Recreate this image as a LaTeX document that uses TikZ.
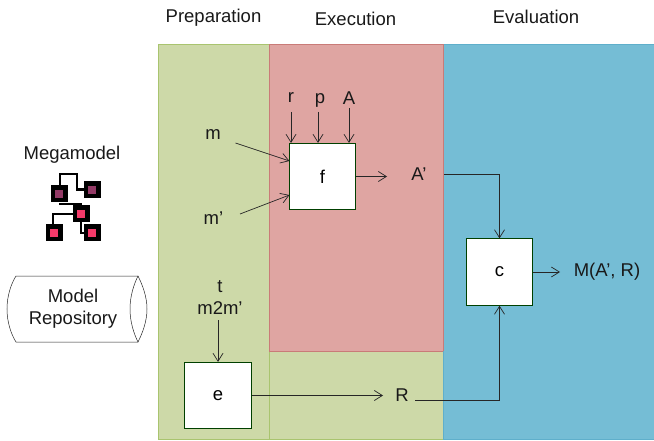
\documentclass[tikz,border=0pt]{standalone}
\usepackage{fontspec}
\setmainfont{Liberation Sans}
\usetikzlibrary{arrows.meta}
\definecolor{pgreen}{HTML}{CDD9A8}
\definecolor{pgreenl}{HTML}{A9C46F}
\definecolor{pred}{HTML}{DFA5A2}
\definecolor{predl}{HTML}{C97B78}
\definecolor{pblue}{HTML}{75BDD5}
\definecolor{pbluel}{HTML}{5FAFCB}
\definecolor{icona}{HTML}{933A66}
\definecolor{iconb}{HTML}{F53A6A}
\tikzset{
  x=1pt,y=-1pt,
  lab/.style={font=\fontsize{18.5}{22}\selectfont,inner sep=0pt,align=center,text=black!90},
  head/.style={font=\fontsize{18.5}{22}\selectfont,inner sep=0pt,text=black!90},
  fnbox/.style={draw=black!75!green,fill=white,line width=0.7pt,minimum width=66.5pt,minimum height=66.5pt,inner sep=0pt,font=\fontsize{18.5}{22}\selectfont},
  conn/.style={draw=black!85,line width=0.7pt,-{Straight Barb[length=8pt,width=10pt,line width=0.7pt]}},
  ic/.style={draw=black,line width=4.5pt,minimum size=12.5pt,inner sep=0pt},
  wire/.style={draw=black,line width=2.6pt}
}
\begin{document}
\begin{tikzpicture}
\useasboundingbox (0,0) rectangle (654,441);
\fill[white] (0,0) rectangle (654,441);
% panels
\draw[fill=pgreen,draw=pgreenl,line width=0.8pt] (158.5,44.5) rectangle (269.5,439);
\draw[fill=pgreen,draw=pgreenl,line width=0.8pt] (269.5,351) rectangle (443,439);
\draw[fill=pred,draw=predl,line width=0.8pt] (269.5,44.5) rectangle (443,351);
\fill[pblue] (443,44.5) rectangle (654,439);
\draw[draw=pbluel,line width=0.8pt] (654,44.5) -- (443,44.5) -- (443,439) -- (654,439);
\draw[draw=predl,line width=1pt] (443,44.5) -- (443,351);
% headings
\node[head] (hp) at (213.5,17.5) {Preparation};
\node[head] (he) at (355.5,18.5) {Execution};
\node[head] (hv) at (536,17) {Evaluation};
% boxes
\node[fnbox] (f) at (322.5,176.5) {f};
\node[fnbox] (e) at (218,395.5) {e};
\node[fnbox] (c) at (499.5,272) {\raisebox{-1pt}{c}};
% labels
\node[lab] (m) at (213,135) {m};
\node[lab] (mp) at (213.5,218) {m'};
\node[lab] (r) at (291,98) {r};
\node[lab] (p) at (320,100) {p};
\node[lab] (A) at (349,98) {A};
\node[lab] (Ap) at (419,174) {A’};
\node[lab] (t) at (220,298) {t\\m2m'};
\node[lab] (R) at (402,395) {R};
\node[lab] (M) at (607,272) {M(A’, R)};
\node[lab] (mega) at (72,155) {Megamodel};
% connectors
\coordinate (ms) at (235.5,143);
\coordinate (fm) at (289.5,161);
\coordinate (mps) at (240,214);
\coordinate (fmp) at (289.5,195);
\coordinate (rs) at (291,112);
\coordinate (ps) at (318,112);
\coordinate (As) at (349,108);
\draw[conn] (ms) -- (fm);
\draw[conn] (mps) -- (fmp);
\draw[conn] (rs) -- (f.north -| rs);
\draw[conn] (ps) -- (f.north -| ps);
\draw[conn] (As) -- (f.north -| As);
\draw[conn] (f.east) -- (387,176.5);
\coordinate (tb) at (218,320);
\draw[conn] (tb) -- (e.north);
\draw[conn] (e.east) -- (383,395.5);
\coordinate (as) at (444,174);
\draw[conn] (as) -| (c.north);
\coordinate (rb) at (415,400);
\draw[conn] (rb) -| (c.south);
\draw[conn] (c.east) -- (560,272);
% megamodel icon
\draw[wire] (60,194) -- (60,174) -- (77,174) -- (77,189.5) -- (92,189.5);
\draw[wire] (59,204) -- (81,204) -- (81,214);
\draw[wire] (81,214) -- (53,214) -- (53,233);
\draw[wire] (81,214) -- (81,233) -- (92,233);
\node[ic,fill=icona] (i1) at (59,194) {};
\node[ic,fill=icona] (i2) at (92,190) {};
\node[ic,fill=iconb] (i3) at (81,214) {};
\node[ic,fill=iconb] (i4) at (54,233) {};
\node[ic,fill=iconb] (i5) at (92,233) {};
% repository
\draw[line width=0.5pt,black!85] (16,276) -- (138,276) .. controls (142,284) and (147,296) .. (147,309) .. controls (147,322) and (142,334) .. (138,342) -- (16,342) .. controls (11,334) and (7,322) .. (7,309) .. controls (7,296) and (11,284) .. (16,276);
\draw[line width=0.5pt,black!85] (138,276) .. controls (134,284) and (130,296) .. (130,309) .. controls (130,322) and (134,334) .. (138,342);
\node[lab] (repo) at (73,309) {Model\\Repository};
\end{tikzpicture}
\end{document}
